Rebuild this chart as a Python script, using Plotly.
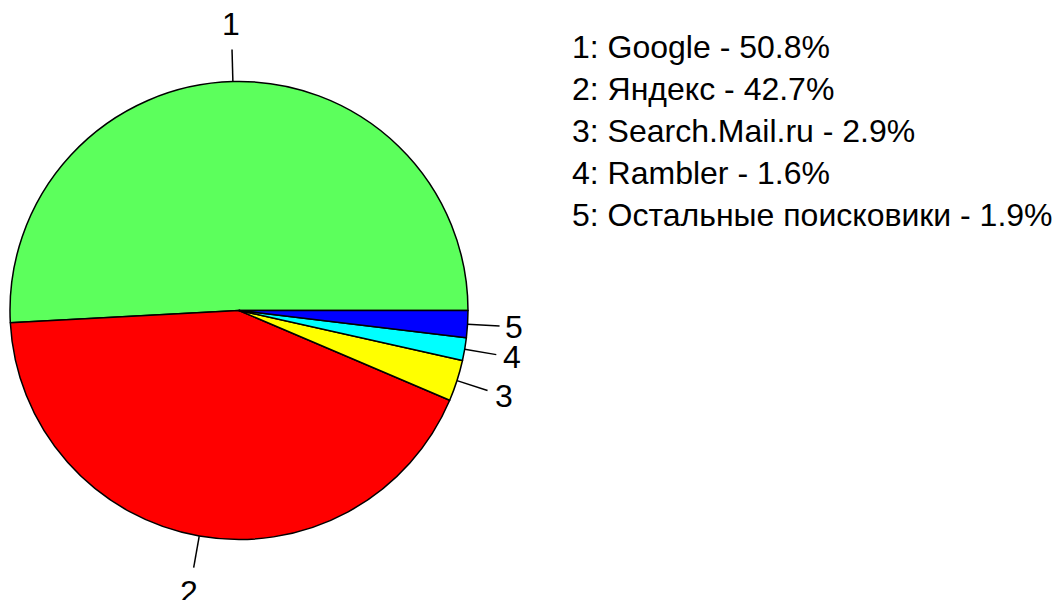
import numpy as np
import plotly.graph_objects as go

categories = ["Google", "Яндекс", "Search.Mail.ru", "Rambler", "Остальные поисковики"]
shares = [50.8, 42.7, 2.9, 1.6, 1.9]
slice_ids = ["1", "2", "3", "4", "5"]
colors = ["#5CFF5C", "#FF0000", "#FFFF00", "#00FFFF", "#0000FF"]

W, H = 1054, 600
cx, cy, R = 239, 310.5, 229
FONT = "Liberation Sans, Arial, Helvetica, sans-serif"
FS = 32

vals = np.array(shares, dtype=float)
frac = vals / vals.sum()
start = np.cumsum(frac) - frac
mid = (start + frac / 2) * 2 * np.pi

fig = go.Figure()
fig.add_trace(go.Pie(
    values=shares, labels=slice_ids, sort=False,
    direction="counterclockwise", rotation=90 - 360 * frac[0],
    marker=dict(colors=colors, line=dict(color="black", width=1.5)),
    textinfo="none", hoverinfo="label+percent", showlegend=False,
    domain=dict(x=[(cx - R) / W, (cx + R) / W], y=[(H - cy - R) / H, (H - cy + R) / H]),
))

lx, ly = [], []
annotations = []
for lab, th in zip(slice_ids, mid):
    c, s = np.cos(th), np.sin(th)
    lx += [cx + R * c, cx + 1.14 * R * c, None]
    ly += [cy - R * s, cy - 1.14 * R * s, None]
    d = R * (1.2 + 0.05 * abs(s))
    annotations.append(dict(x=cx + d * c, y=cy - d * s, xref="x", yref="y", text=lab,
                            showarrow=False, xanchor="center", yanchor="middle",
                            font=dict(size=FS, color="black", family=FONT)))

fig.add_trace(go.Scatter(x=lx, y=ly, mode="lines", line=dict(color="black", width=1.5),
                         hoverinfo="skip", showlegend=False))

for i, (lab, cat, v) in enumerate(zip(slice_ids, categories, shares)):
    annotations.append(dict(x=570, y=47 + 42 * i, xref="x", yref="y",
                            text=f"{lab}: {cat} - {v}%", showarrow=False,
                            xanchor="left", yanchor="middle",
                            font=dict(size=FS, color="black", family=FONT)))

fig.update_layout(
    width=W, height=H, margin=dict(l=0, r=0, t=0, b=0),
    paper_bgcolor="white", plot_bgcolor="rgba(0,0,0,0)",
    xaxis=dict(range=[0, W], visible=False, domain=[0, 1], fixedrange=True),
    yaxis=dict(range=[H, 0], visible=False, domain=[0, 1], fixedrange=True),
    annotations=annotations, showlegend=False,
)
fig.write_html("out.html", config={"displayModeBar": False},
               post_script="document.body.style.margin='0';document.body.style.overflow='hidden';")
